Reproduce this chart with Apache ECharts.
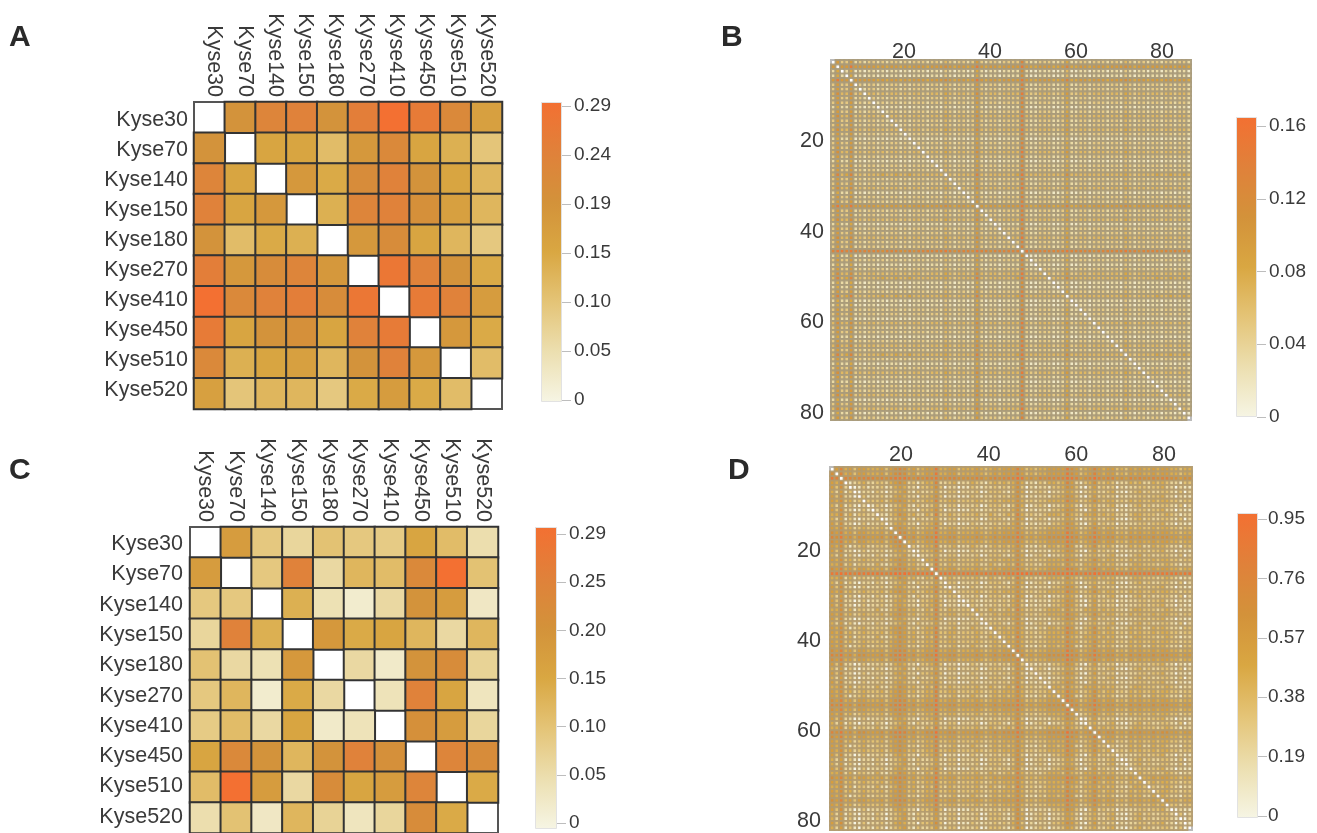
<!DOCTYPE html>
<html><head><meta charset="utf-8">
<style>html,body{margin:0;padding:0;background:#fff}#c{width:1317px;height:833px;filter:blur(0.45px)}</style>
<script src="https://cdn.jsdelivr.net/npm/echarts@6/dist/echarts.min.js"></script>
</head><body><div id="c"></div>
<script>
const cellLines = ['Kyse30','Kyse70','Kyse140','Kyse150','Kyse180','Kyse270','Kyse410','Kyse450','Kyse510','Kyse520'];
const valuesA = [
[null,.19,.23,.24,.19,.25,.29,.26,.22,.16],
[.19,null,.15,.15,.11,.18,.22,.15,.13,.095],
[.23,.15,null,.18,.14,.21,.24,.19,.15,.12],
[.24,.15,.18,null,.13,.23,.24,.20,.16,.12],
[.19,.11,.14,.13,null,.18,.21,.15,.12,.09],
[.25,.18,.21,.23,.18,null,.27,.24,.19,.14],
[.29,.22,.24,.25,.21,.27,null,.26,.24,.17],
[.26,.15,.19,.20,.15,.24,.26,null,.18,.14],
[.22,.13,.15,.16,.12,.19,.24,.18,null,.11],
[.16,.095,.12,.12,.09,.14,.17,.14,.11,null]];
const valuesC = [
[null,.17,.09,.065,.10,.09,.085,.15,.11,.05],
[.17,null,.09,.24,.06,.12,.11,.22,.29,.10],
[.09,.09,null,.13,.045,.02,.06,.19,.17,.03],
[.065,.24,.13,null,.18,.14,.15,.12,.06,.12],
[.10,.06,.045,.18,null,.06,.025,.19,.21,.07],
[.09,.12,.02,.14,.06,null,.04,.24,.15,.035],
[.085,.11,.06,.15,.025,.04,null,.2,.17,.065],
[.15,.22,.19,.12,.19,.24,.2,null,.23,.21],
[.11,.29,.17,.06,.21,.15,.17,.23,null,.14],
[.05,.10,.03,.12,.07,.035,.065,.21,.14,null]];

// Panels B and D: estimated levels, one digit per cell, rows grouped in tens of columns
const levelStepB = 0.016, levelStepD = 0.11;
const rowsB = {
N1:'3633623233 2323323233 3233243233 2363233233 3383223332 2352233233 3233243233 2332332332',
N2:'4744734344 3434434344 3344354344 3474344344 4494334443 3463344344 4344354344 3443443443',
L :'2522512122 1212212122 2122132122 1252122122 2272112221 1241122122 2122132122 1221221221',
S :'6966966666 5656656566 6566676566 5696566566 6696556665 5685566566 6566676566 5665665665',
O :'8998988888 8788877878 8888898788 8798878888 8899888888 8898888878 8888898878 8887878787',
Q :'4845834344 4544544544 4444454344 4484344444 4594444444 4474444444 4444454344 4454454454'};
const orderB = 'N1 S L L S N1 N1 N2 N1 N1 L N1 N2 N1 N1 N2 N1 L N1 N1 N2 N1 L N1 N1 Q N1 N1 N2 L N1 N1 S N1 N1 N2 L N1 N1 N2 N1 N1 O L N1 L N1 N2 Q L L N1 Q L L N1 N1 L N2 N1 N1 L N1 N2 N1 Q N1 L N1 N2 N1 L N1 N1 N2 L N1 N2 L N1'.split(' ');
const rowsD = {
A:'5463423433 3424565342 3447334423 3343234344 4642323344 4475423464 3442324343 3434433233',
C:'5362201312 2312454220 3346302201 1321223232 4630212213 3465310352 3230212233 2334220211',
D:'4251310221 3202345213 2235213302 2230133321 3640123202 2354202342 2341102342 3223321302',
E:'6574535544 4535676453 4558445534 4454345455 5753434455 5586534575 4553435454 4545544344',
F:'7685646655 5646787564 5669556645 5565456566 6864545566 6697645686 5664546565 5656655455',
G:'8787767777 6767888767 6778667766 6676567677 7985657677 7798756797 6775657676 6767766566',
H:'8898878888 8878999878 8889888878 8787878788 8999878888 8899878898 8888878888 8888888788',
I:'5463123422 3324565231 3447223412 2432134343 4641213244 3475213463 3431224342 2434322133',
J:'4462413322 4213465342 2437324323 3342243234 3742322344 4364324453 4342213443 3323432122'};
const orderD = 'E E G I C D C A D C J D C A E F E I C D A J E H J D C A D C C J A C D I A J A I E F E C D C D C J A I E F E A C D J F E A I A C D D C J E A J A I E A C D D C D'.split(' ');

const ticksA = ['0','0.05','0.10','0.15','0.19','0.24','0.29'];
const ticksC = ['0','0.05','0.10','0.15','0.20','0.25','0.29'];
const ticksB = ['0','0.04','0.08','0.12','0.16'];
const ticksD = ['0','0.19','0.38','0.57','0.76','0.95'];
const rampColors = ['#f6f5e4','#ecdfb0','#e4c477','#d9a742','#d3923a','#e0813a','#f37032'];

function expand(rows, order, step){
  return order.map((k,i)=>{
    const s = rows[k].replace(/ /g,'');
    if (s.length!==80) throw new Error('bad row '+k);
    return Array.from(s,(d,j)=> i===j ? null : +(d*step).toFixed(3));
  });
}
const valuesB = expand(rowsB, orderB, levelStepB);
const valuesD = expand(rowsD, orderD, levelStepD);
function cells(m){const o=[];m.forEach((r,i)=>r.forEach((v,j)=>o.push([j,i,v])));return o;}

const font='"Liberation Sans",Arial,sans-serif', ink='#3a3a3a';
const opt={animation:false,backgroundColor:'#fff',textStyle:{fontFamily:font},
  title:[],grid:[],xAxis:[],yAxis:[],series:[],visualMap:[]};
[['A',9,23],['B',721,23],['C',9,456],['D',728,456]].forEach(([t,l,tp])=>opt.title.push({text:t,left:l,top:tp,padding:0,
  textStyle:{fontFamily:font,fontSize:30,fontWeight:'bold',color:'#2a2a2a'}}));

function panel(p){
  const g=opt.grid.length;
  opt.grid.push({left:p.left,top:p.top,width:p.w,height:p.h,show:true,borderColor:p.frame,borderWidth:p.frameW,backgroundColor:'#fff',outerBoundsMode:'none',z:1});
  const n=p.m.length, idx=Array.from({length:n},(_,i)=>i);
  const xi=opt.xAxis.length, yi=opt.yAxis.length;
  const base={gridIndex:g,type:'category',axisLine:{show:false},axisTick:{show:false},splitLine:{show:false},axisLabel:{show:false}};
  opt.xAxis.push({...base,data:p.names||idx,position:'top'});
  opt.yAxis.push({...base,data:p.names||idx,inverse:true});
  if(p.xr){
    const lab=m=>({show:true,customValues:[20,40,60,80],margin:m,fontSize:p.fs,color:ink,fontFamily:font,formatter:v=>String(v)});
    const vb={gridIndex:g,type:'value',axisLine:{show:false},axisTick:{show:false},splitLine:{show:false}};
    opt.xAxis.push({...vb,position:'top',min:p.xr[0],max:p.xr[1],axisLabel:lab(p.mx)});
    opt.yAxis.push({...vb,position:'left',inverse:true,min:p.yr[0],max:p.yr[1],axisLabel:lab(p.my)});
  }
  if(p.names){
    const gl=opt.grid.length;
    opt.grid.push({left:p.lab[0],top:p.lab[1],width:p.lab[2],height:p.lab[3],outerBoundsMode:'none'});
    const lb={gridIndex:gl,type:'category',data:p.names,axisLine:{show:false},axisTick:{show:false},splitLine:{show:false}};
    opt.xAxis.push({...lb,position:'top',axisLabel:{show:true,interval:0,rotate:90,margin:p.mx,fontSize:p.fs,color:ink,fontFamily:font}});
    opt.yAxis.push({...lb,inverse:true,axisLabel:{show:true,interval:0,margin:p.my,fontSize:p.fs,color:ink,fontFamily:font}});
  }
  if(p.fine){
    opt.series.push({type:'custom',xAxisIndex:xi,yAxisIndex:yi,data:cells(p.m),encode:{x:0,y:1},silent:true,z:2,clip:false,progressive:0,
      renderItem(params,api){
        const v=api.value(2); if(isNaN(v)) return null;
        const c=api.coord([api.value(0),api.value(1)]), s=api.size([1,1]);
        return {type:'rect',shape:{x:c[0]-s[0]/2,y:c[1]-s[1]/2,width:s[0],height:s[1]},
          style:{fill:api.visual('color'),stroke:p.line,lineWidth:p.lineW}};
      }});
  } else {
    opt.series.push({type:'heatmap',xAxisIndex:xi,yAxisIndex:yi,data:cells(p.m),progressive:0,animation:false,
      itemStyle:{borderColor:p.line,borderWidth:p.lineW},emphasis:{disabled:true},silent:true,z:2});
  }
  opt.visualMap.push({show:false,seriesIndex:opt.series.length-1,dimension:2,min:0,max:p.max,inRange:{color:rampColors}});
}
function colorbar(b){
  const g=opt.grid.length, n=b.ticks.length-1;
  opt.grid.push({left:b.left,top:b.top,width:b.w,height:b.h,outerBoundsMode:'none'});
  const xi=opt.xAxis.length, yi=opt.yAxis.length;
  const pitch=(b.h-b.low-b.high)/n, off=b.low/pitch, top=n+(b.low+b.high)/pitch;
  const marks=b.ticks.map((_,k)=>k+off);
  opt.xAxis.push({gridIndex:g,type:'category',data:[''],show:false});
  opt.yAxis.push({gridIndex:g,type:'value',position:'right',min:0,max:top,splitLine:{show:false},axisLine:{show:false},
    axisTick:{show:true,customValues:marks,length:9,lineStyle:{color:'#bdbdbd',width:1}},
    axisLabel:{customValues:marks,margin:b.m,fontSize:b.fs,color:ink,fontFamily:font,formatter:v=>b.ticks[Math.round(v-off)]}});
  opt.series.push({type:'bar',xAxisIndex:xi,yAxisIndex:yi,data:[top],barWidth:'100%',silent:true,
    itemStyle:{borderColor:'#e2e2e2',borderWidth:1,color:new echarts.graphic.LinearGradient(0,1,0,0,rampColors.map((c,i)=>({offset:i/6,color:c})))}});
}
panel({m:valuesA,names:cellLines,lab:[199,105,303,300],left:194,top:102,w:308,h:307,fs:21.5,mx:8,my:11,max:.29,line:'#333',lineW:2,frame:'#555',frameW:2});
panel({m:valuesC,names:cellLines,lab:[190,529,308,303],left:190,top:527,w:308,h:306,fs:21.5,mx:7,my:7,max:.29,line:'#333',lineW:2,frame:'#555',frameW:2});
panel({m:valuesB,fine:true,left:831,top:60,w:360,h:360,fs:21.5,mx:-3,my:7,max:.16,line:'rgba(170,155,122,0.9)',lineW:1.9,frame:'#bbb',frameW:2,xr:[3.02,86.74],yr:[2.1,81.6]});
panel({m:valuesD,fine:true,left:830,top:467,w:362,h:363,fs:21.5,mx:1,my:9,max:.95,line:'rgba(180,155,110,0.9)',lineW:1.9,frame:'#bbb',frameW:2,xr:[3.8,86.4],yr:[1.33,82]});
colorbar({left:541,top:102,w:21,h:300,low:2,high:4,m:12,ticks:ticksA,fs:19});
colorbar({left:535,top:527,w:22,h:302,low:6,high:7,m:12,ticks:ticksC,fs:19});
colorbar({left:1236,top:117,w:21,h:300,low:0,high:9,m:12,ticks:ticksB,fs:19});
colorbar({left:1237,top:513,w:21,h:305,low:2,high:6,m:10,ticks:ticksD,fs:19});
const chart=echarts.init(document.getElementById('c'),null,{renderer:'canvas'});
chart.setOption(opt);
</script></body></html>
